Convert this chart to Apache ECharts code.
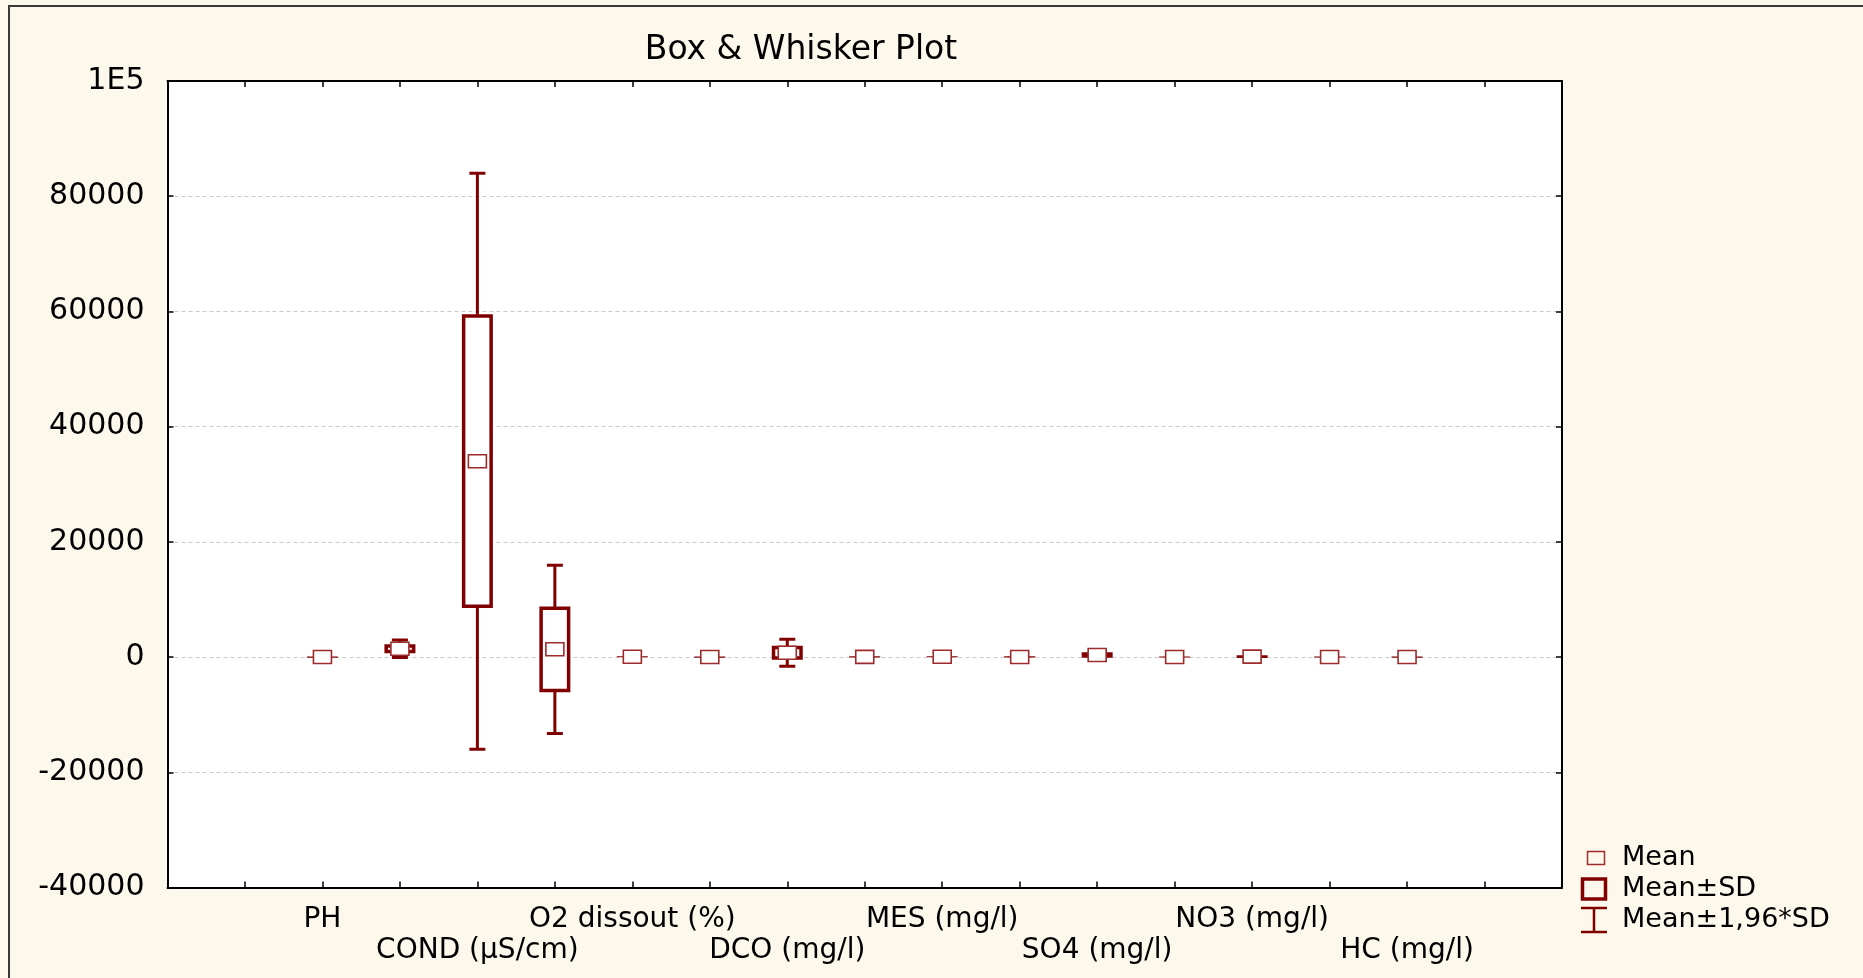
<!DOCTYPE html>
<html>
<head>
<meta charset="utf-8">
<script src="https://cdn.jsdelivr.net/npm/echarts@6/dist/echarts.min.js"></script>
<style>
  html, body { margin: 0; padding: 0; background: #fdf8ec; }
  #chart { width: 1863px; height: 978px; }
</style>
</head>
<body>
<div id="chart"></div>
<script>
// ---- data ----
const xTickLabels = ['PH', '', 'COND (µS/cm)', '', 'O2 dissout (%)', '', 'DCO (mg/l)', '', 'MES (mg/l)', '', 'SO4 (mg/l)', '', 'NO3 (mg/l)', '', 'HC (mg/l)'];
const means = [7.5, 1450, 34000, 1350, 60, 8, 750, 30, 60, 20, 370, 15, 80, 10, 5];
const sds   = [0.5,  780, 25500, 7450, 25, 2, 1200, 20, 50, 10, 480,  8, 250, 5, 3];
const yTickLabels = ['-40000', '-20000', '0', '20000', '40000', '60000', '80000', '1E5'];
const yMin = -40000, yMax = 100000, yInterval = 20000;
const titleText = 'Box & Whisker Plot';
const legendLabels = ['Mean', 'Mean±SD', 'Mean±1,96*SD'];

const seriesData = means.map((m, i) => [i, m, sds[i]]);

const DARK = '#800000';
const MARK = '#9e2b2b';
const FONT = 'DejaVu Sans';

const chart = echarts.init(document.getElementById('chart'));

function renderBox(params, api) {
  const x = api.value(0), mean = api.value(1), sd = api.value(2);
  const pMean = api.coord([x, mean]);
  const cx = pMean[0];
  const yBoxTop = api.coord([x, mean + sd])[1];
  const yBoxBot = api.coord([x, mean - sd])[1];
  const yWTop = api.coord([x, mean + 1.96 * sd])[1];
  const yWBot = api.coord([x, mean - 1.96 * sd])[1];
  const boxW = 31, capW = 16, mW = 18, mH = 13, bw = 3.5;
  const children = [];
  // whiskers
  children.push({ type: 'line', shape: { x1: cx, y1: yWTop, x2: cx, y2: yWBot }, style: { stroke: DARK, lineWidth: 3 } });
  children.push({ type: 'line', shape: { x1: cx - capW / 2, y1: yWTop, x2: cx + capW / 2, y2: yWTop }, style: { stroke: DARK, lineWidth: 3 } });
  children.push({ type: 'line', shape: { x1: cx - capW / 2, y1: yWBot, x2: cx + capW / 2, y2: yWBot }, style: { stroke: DARK, lineWidth: 3 } });
  // box (border drawn inside)
  let h = yBoxBot - yBoxTop;
  let top = yBoxTop;
  if (h < 1.2) { top = (yBoxTop + yBoxBot) / 2 - 0.6; h = 1.2; }
  children.push({ type: 'rect', shape: { x: cx - boxW / 2, y: top, width: boxW, height: h }, style: { fill: DARK } });
  if (h > 2 * bw) {
    children.push({ type: 'rect', shape: { x: cx - boxW / 2 + bw, y: top + bw, width: boxW - 2 * bw, height: h - 2 * bw }, style: { fill: '#ffffff' } });
  }
  // mean marker
  children.push({ type: 'rect', shape: { x: cx - mW / 2, y: pMean[1] - mH / 2, width: mW, height: mH }, style: { fill: '#ffffff', stroke: MARK, lineWidth: 1.6 } });
  return { type: 'group', children };
}

const axisLineStyle = { color: '#000', width: 2 };
const tickStyle = { show: true, inside: true, length: 6, lineStyle: { color: '#000', width: 1.5 } };

const option = {
  backgroundColor: '#fdf8ec',
  animation: false,
  grid: {
    left: 167.5, right: 1863 - 1562, top: 81, bottom: 978 - 887.5,
    show: true, backgroundColor: '#ffffff', borderWidth: 0
  },
  xAxis: [
    {
      type: 'value', position: 'bottom', min: -2, max: 16, interval: 1,
      axisLine: { show: true, onZero: false, lineStyle: axisLineStyle },
      axisTick: tickStyle,
      splitLine: { show: false },
      axisLabel: {
        show: true, color: '#000', fontFamily: FONT, fontSize: 28, lineHeight: 31, margin: 17,
        formatter: function (v) {
          if (!Number.isInteger(v) || v < 0 || v >= xTickLabels.length) return '';
          const lab = xTickLabels[v];
          if (!lab) return '';
          return ((v / 2) % 2 === 1) ? '\n' + lab : lab;
        }
      }
    },
    {
      type: 'value', position: 'top', min: -2, max: 16, interval: 1,
      axisLine: { show: true, onZero: false, lineStyle: axisLineStyle },
      axisTick: tickStyle,
      splitLine: { show: false },
      axisLabel: { show: false }
    }
  ],
  yAxis: [
    {
      type: 'value', position: 'left', min: yMin, max: yMax, interval: yInterval,
      axisLine: { show: true, onZero: false, lineStyle: axisLineStyle },
      axisTick: tickStyle,
      splitLine: { show: true, lineStyle: { color: '#cacaca', type: [4, 3], width: 1 } },
      axisLabel: {
        color: '#000', fontFamily: FONT, fontSize: 30, margin: 23,
        formatter: function (v) { return yTickLabels[Math.round((v - yMin) / yInterval)]; }
      }
    },
    {
      type: 'value', position: 'right', min: yMin, max: yMax, interval: yInterval,
      axisLine: { show: true, onZero: false, lineStyle: axisLineStyle },
      axisTick: tickStyle,
      splitLine: { show: false },
      axisLabel: { show: false }
    }
  ],
  series: [{
    type: 'custom',
    xAxisIndex: 0, yAxisIndex: 0,
    renderItem: renderBox,
    data: seriesData,
    encode: { x: 0, y: [1] },
    clip: true
  }],
  graphic: [
    { type: 'rect', z: -10, silent: true, shape: { x: 9, y: 6, width: 1900, height: 1000 }, style: { fill: 'none', stroke: '#3a3a3a', lineWidth: 2 } },
    { type: 'text', x: 801, y: 50, style: { text: titleText, font: '33px "DejaVu Sans"', fill: '#000', textAlign: 'center', textVerticalAlign: 'middle' } },
    // legend
    { type: 'rect', shape: { x: 1596 - 8.5, y: 858 - 6.5, width: 17, height: 13 }, style: { fill: 'none', stroke: MARK, lineWidth: 1.5 } },
    { type: 'rect', shape: { x: 1594 - 11.5, y: 889 - 10, width: 23, height: 20 }, style: { fill: 'none', stroke: DARK, lineWidth: 3.5 } },
    { type: 'line', shape: { x1: 1594, y1: 908, x2: 1594, y2: 932 }, style: { stroke: DARK, lineWidth: 2.5 } },
    { type: 'line', shape: { x1: 1581, y1: 908, x2: 1607, y2: 908 }, style: { stroke: DARK, lineWidth: 2.5 } },
    { type: 'line', shape: { x1: 1581, y1: 932, x2: 1607, y2: 932 }, style: { stroke: DARK, lineWidth: 2.5 } },
    { type: 'text', x: 1622, y: 858, style: { text: legendLabels[0], font: '27px "DejaVu Sans"', fill: '#000', textVerticalAlign: 'middle' } },
    { type: 'text', x: 1622, y: 889, style: { text: legendLabels[1], font: '27px "DejaVu Sans"', fill: '#000', textVerticalAlign: 'middle' } },
    { type: 'text', x: 1622, y: 920, style: { text: legendLabels[2], font: '27px "DejaVu Sans"', fill: '#000', textVerticalAlign: 'middle' } }
  ]
};

chart.setOption(option);
</script>
</body>
</html>
